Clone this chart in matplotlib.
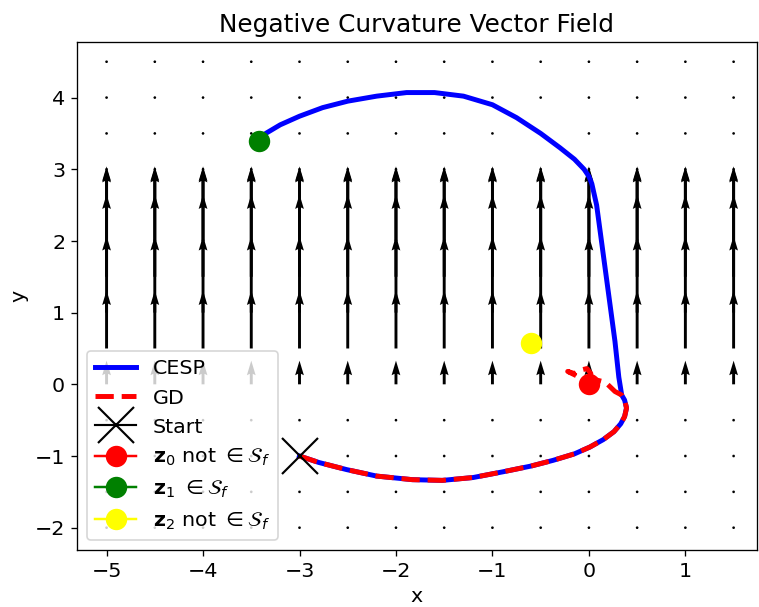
import matplotlib
matplotlib.use("Agg")
import matplotlib.pyplot as plt
import numpy as np

plt.rcParams['font.size'] = 12.5

# grid of the field
grid_x = np.arange(-5, 1.51, 0.5)
grid_y = np.arange(-2, 4.51, 0.5)
# vertical component of the field for each row of grid_y (zero elsewhere)
row_y = [0.0, 0.5, 1.0, 1.5, 2.0, 2.5, 3.0]
row_v = [0.33, 0.81, 1.07, 1.15, 1.04, 0.52, 0.0]

# shared first part of both trajectories (start -> bottom bend)
low_x = [-3.0, -2.8, -2.51, -2.2, -1.83, -1.52, -1.2, -0.89, -0.6, -0.37, -0.15, 0.01, 0.15,
         0.26, 0.33, 0.37, 0.39, 0.37, 0.34]
low_y = [-1.0, -1.09, -1.19, -1.28, -1.33, -1.34, -1.3, -1.22, -1.14, -1.06, -0.97, -0.875,
         -0.77, -0.66, -0.55, -0.45, -0.33, -0.22, -0.15]

# CESP climbs up and arcs over to z1
cesp_x = low_x + [0.31, 0.27, 0.22, 0.17, 0.12, 0.08, 0.03, 0.0, -0.05, -0.15, -0.3, -0.5,
                  -0.75, -1.0, -1.3, -1.6, -1.89, -2.2, -2.5, -2.76, -3.0, -3.2, -3.35, -3.42]
cesp_y = low_y + [0.1, 0.6, 1.1, 1.6, 2.1, 2.5, 2.8, 2.9, 3.0, 3.14, 3.3, 3.5,
                  3.72, 3.9, 4.02, 4.07, 4.07, 4.02, 3.95, 3.86, 3.74, 3.62, 3.5, 3.39]

# GD turns back and settles at z0
gd_x = low_x + [0.27, 0.17, 0.08, 0.0, -0.1, -0.22, -0.15, -0.08, -0.02, 0.02, 0.0]
gd_y = low_y + [-0.1, 0.03, 0.06, 0.05, 0.1, 0.18, 0.15, 0.2, 0.22, 0.15, 0.0]

start = (-3.0, -1.0)
z0 = (0.0, 0.0)
z1 = (-3.42, 3.39)
z2 = (-0.6, 0.58)

X, Y = np.meshgrid(grid_x, grid_y)
U = np.zeros_like(X)
V = np.zeros_like(Y)
for yy, vv in zip(row_y, row_v):
    V[np.isclose(Y, yy)] = vv

fig = plt.figure(figsize=(6.4, 5.12), dpi=118.6)
ax = fig.add_axes([0.101, 0.094, 0.896, 0.837])

ax.quiver(X, Y, U, V, angles='xy', scale_units='xy', scale=1, color='black')

ax.plot(cesp_x, cesp_y, color='blue', lw=3, label='CESP')
ax.plot(gd_x, gd_y, color='red', lw=3, ls='--', label='GD')
ax.plot(*start, marker='x', color='black', markersize=22, markeredgewidth=1.3,
        ls='-', lw=1.3, label='Start')
ax.plot(*z0, marker='o', color='red', markersize=12, ls='-',
        label=r'$\mathbf{z}_0$ not $\in \mathcal{S}_f$')
ax.plot(*z1, marker='o', color='green', markersize=12, ls='-',
        label=r'$\mathbf{z}_1$ $\in \mathcal{S}_f$')
ax.plot(*z2, marker='o', color='yellow', markersize=12, ls='-',
        label=r'$\mathbf{z}_2$ not $\in \mathcal{S}_f$')

ax.set_xlim(-5.31, 1.74)
ax.set_ylim(-2.31, 4.78)
ax.set_xlabel('x')
ax.set_ylabel('y')
ax.set_title('Negative Curvature Vector Field')
ax.legend(loc='lower left')

fig.savefig('out.png', dpi=118.6)
